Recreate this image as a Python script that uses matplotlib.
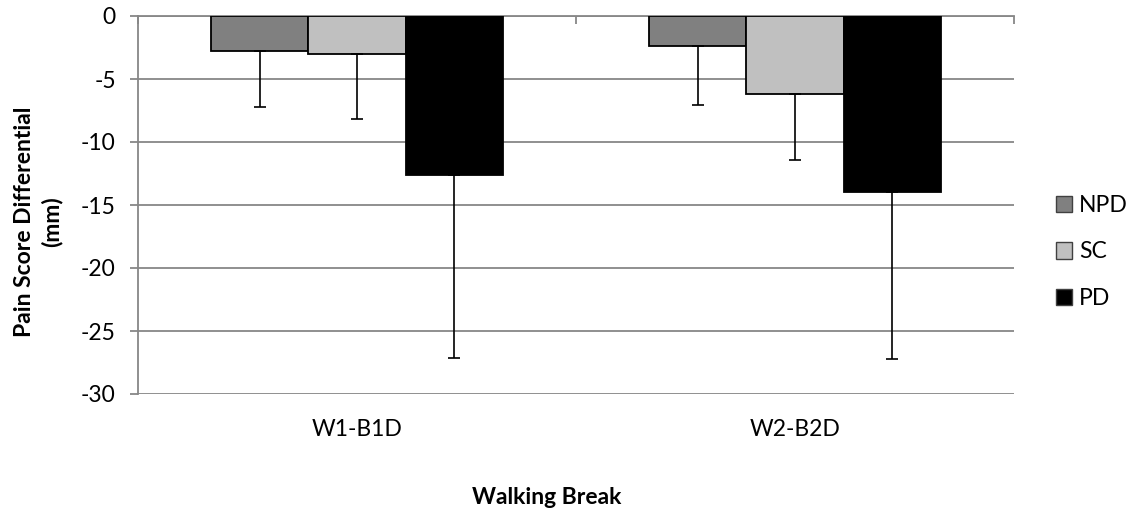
import numpy as np
import matplotlib
matplotlib.use('Agg')
import matplotlib.pyplot as plt
import matplotlib.patches as mpatches

#--- data --------------------------------------------------------------------
breaks   = ['W1-B1D', 'W2-B2D']
groups   = ['NPD', 'SC', 'PD']
npd_mean = [-2.8, -2.4]
sc_mean  = [-3.0, -6.2]
pd_mean  = [-12.6, -14.0]
npd_err  = [4.45, 4.65]
sc_err   = [5.2, 5.2]
pd_err   = [14.55, 13.2]

means  = [npd_mean, sc_mean, pd_mean]
errs   = [npd_err, sc_err, pd_err]
colors = ['#808080', '#c0c0c0', '#000000']

#--- settings ----------------------------------------------------------------
plt.rcParams['font.family'] = ['Lato', 'DejaVu Sans']
plt.rcParams['axes.unicode_minus'] = False
fs    = 16.5
grey  = '#878787'
width = 1.0 / 4.5

fig = plt.figure(figsize=(11.3, 5.14), dpi=100)
ax  = fig.add_axes([138/1130, 1 - 394/514, 876/1130, 378/514])

x = np.arange(len(breaks))
for n in range(3):
    ax.bar(x + (n - 1)*width, means[n], width, color=colors[n],
           edgecolor='black', linewidth=1.3, label=groups[n], zorder=3)
    ax.errorbar(x + (n - 1)*width, means[n],
                yerr=[errs[n], np.zeros(len(breaks))], fmt='none',
                ecolor='black', elinewidth=1.2, capsize=4.5, capthick=1.2,
                zorder=4)

ax.set_ylim(-30, 0)
ax.set_xlim(-0.5, len(breaks) - 0.5)
ax.set_yticks(np.arange(-30, 1, 5))
ax.yaxis.grid(True, color=grey, linewidth=1.3, zorder=0)
ax.tick_params(axis='y', length=6, width=1.3, color=grey, labelsize=fs,
               pad=10)

# category axis sits at zero (top); labels below the plot
ax.set_xticks(np.arange(-0.5, len(breaks)), minor=False)
ax.set_xticks(x, minor=True)
ax.set_xticklabels(breaks, minor=True)
ax.tick_params(axis='x', which='major', top=True, bottom=False,
               labeltop=False, labelbottom=False, direction='in',
               length=6, width=1.3, color=grey)
ax.tick_params(axis='x', which='minor', top=False, bottom=True,
               labelbottom=True, length=0, pad=18, labelsize=fs)

for side in ['right', 'bottom']:
    ax.spines[side].set_visible(False)
for side in ['left', 'top']:
    ax.spines[side].set_color(grey)
    ax.spines[side].set_linewidth(1.3)

fig.text(38/1130, 1 - 222/514, 'Pain Score Differential\n(mm)',
         rotation=90, ha='center', va='center', fontsize=fs,
         fontweight='bold', multialignment='center', linespacing=1.3)
fig.text(547/1130, 1 - 497/514, 'Walking Break', ha='center',
         va='center', fontsize=fs, fontweight='bold')

handles = [mpatches.Patch(facecolor=colors[n], edgecolor='#404040',
                          linewidth=1.0, label=groups[n]) for n in range(3)]
fig.legend(handles=handles, loc='center left',
           bbox_to_anchor=(1056/1130, 1 - 252/514), frameon=False,
           fontsize=fs, handlelength=0.7, handleheight=0.7,
           handletextpad=0.3, labelspacing=1.1, borderaxespad=0,
           borderpad=0)

fig.savefig('out.png', dpi=100)
